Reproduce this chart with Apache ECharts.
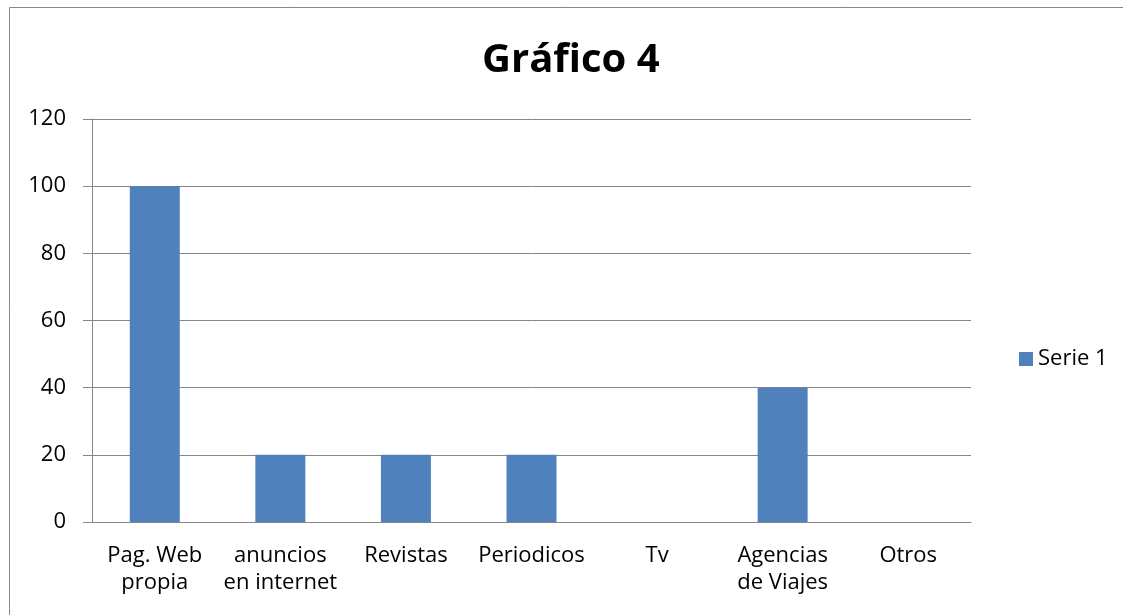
<!DOCTYPE html>
<html>
<head>
<meta charset="utf-8">
<script src="https://cdn.jsdelivr.net/npm/echarts@6/dist/echarts.min.js"></script>
<style>
  html, body { margin: 0; padding: 0; background: #fff; }
  #chartDiv { width: 1123px; height: 615px; }
</style>
</head>
<body>
<div id="chartDiv"></div>
<script>
    // datos del grafico
    var categorias = ['Pag. Web\npropia', 'anuncios\nen internet', 'Revistas', 'Periodicos', 'Tv', 'Agencias\nde Viajes', 'Otros'];
    var serie1 = [100, 20, 20, 20, 0, 40, 0];
    var ejeY = { min: 0, max: 120, interval: 20 };

    var fuente = 'Open Sans';
    var gris = '#868686';

    var chart = echarts.init(document.getElementById('chartDiv'));
    chart.setOption({
        animation: false,
        textStyle: { fontFamily: fuente },
        title: {
            text: 'Gráfico 4',
            left: 477,
            top: 36,
            textStyle: { fontFamily: fuente, fontSize: 40, fontWeight: 'bold', color: '#000' }
        },
        graphic: [{
            type: 'rect',
            shape: { x: 9.5, y: 7.5, width: 1200, height: 700 },
            style: { fill: 'none', stroke: gris, lineWidth: 1 },
            silent: true
        }],
        legend: {
            data: ['Serie 1'],
            orient: 'vertical',
            left: 1014,
            top: 343,
            itemWidth: 14,
            itemHeight: 14,
            textStyle: { fontFamily: fuente, fontSize: 22, color: '#000' },
            icon: 'rect'
        },
        grid: { left: 92, right: 152, top: 119, bottom: 93 },
        xAxis: {
            type: 'category',
            data: categorias,
            axisLine: { lineStyle: { color: gris, width: 1 } },
            axisTick: { length: 8, lineStyle: { color: gris } },
            axisLabel: { color: '#000', fontSize: 22, lineHeight: 27, margin: 20, interval: 0 }
        },
        yAxis: {
            type: 'value',
            min: ejeY.min,
            max: ejeY.max,
            interval: ejeY.interval,
            axisLine: { show: true, lineStyle: { color: gris, width: 1 } },
            axisTick: { show: true, length: 9, lineStyle: { color: gris } },
            axisLabel: { color: '#000', fontSize: 22, margin: 26 },
            splitLine: { lineStyle: { color: gris, width: 1 } }
        },
        series: [{
            name: 'Serie 1',
            type: 'bar',
            data: serie1,
            barWidth: 50,
            itemStyle: { color: '#4F81BD' }
        }]
    });
</script>
</body>
</html>
